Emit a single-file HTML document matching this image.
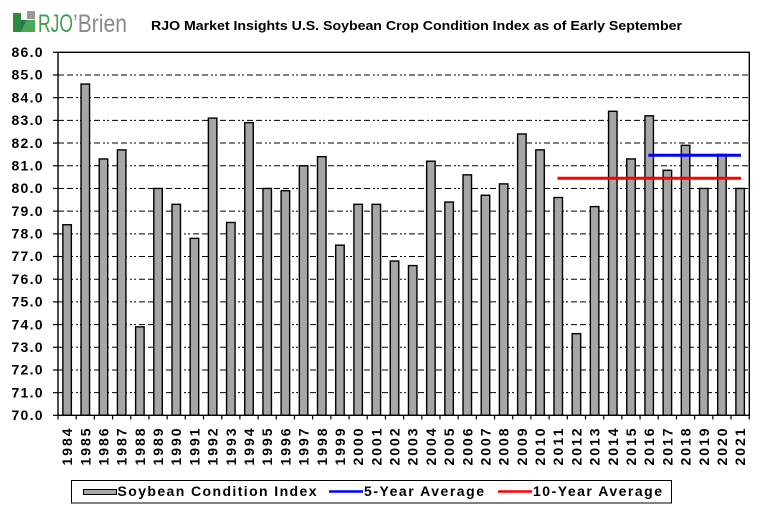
<!DOCTYPE html>
<html><head><meta charset="utf-8"><style>
html,body{margin:0;padding:0;background:#fff;}
svg{display:block;}
text{font-family:"Liberation Sans",Arial,sans-serif;}
</style></head><body>
<svg width="763" height="516" viewBox="0 0 763 516" xmlns="http://www.w3.org/2000/svg">
<rect width="763" height="516" fill="#fff"/>
<!-- logo -->
<rect x="13" y="13" width="8" height="19" fill="#2b8a3e"/>
<polygon points="21,32 35,32 35,20 27,20" fill="#4aa85a"/>
<polygon points="21,32 27,20 21,20" fill="#1f7a5a"/>
<rect x="27" y="11" width="8" height="8" fill="#9a9a9a"/>
<text x="38" y="32" font-size="25" fill="#3f9e4a" textLength="35" lengthAdjust="spacingAndGlyphs">RJO</text>
<text x="73" y="32" font-size="25" fill="#8a8a8a" textLength="54" lengthAdjust="spacingAndGlyphs">’Brien</text>
<!-- title -->
<text x="151" y="30" font-size="13" font-weight="bold" fill="#000" textLength="531" lengthAdjust="spacingAndGlyphs">RJO Market Insights U.S. Soybean Crop Condition Index as of Early September</text>
<!-- grid -->
<g stroke="#000" stroke-width="1" stroke-dasharray="6,3,6,3,2,2,2,3">
<line x1="58" x2="749" y1="74.99" y2="74.99"/>
<line x1="58" x2="749" y1="97.68" y2="97.68"/>
<line x1="58" x2="749" y1="120.37" y2="120.37"/>
<line x1="58" x2="749" y1="143.06" y2="143.06"/>
<line x1="58" x2="749" y1="165.75" y2="165.75"/>
<line x1="58" x2="749" y1="188.44" y2="188.44"/>
<line x1="58" x2="749" y1="211.13" y2="211.13"/>
<line x1="58" x2="749" y1="233.82" y2="233.82"/>
<line x1="58" x2="749" y1="256.51" y2="256.51"/>
<line x1="58" x2="749" y1="279.2" y2="279.2"/>
<line x1="58" x2="749" y1="301.89" y2="301.89"/>
<line x1="58" x2="749" y1="324.58" y2="324.58"/>
<line x1="58" x2="749" y1="347.27" y2="347.27"/>
<line x1="58" x2="749" y1="369.96" y2="369.96"/>
<line x1="58" x2="749" y1="392.65" y2="392.65"/>
</g>
<!-- bars -->
<g fill="#a6a6a6" stroke="#000" stroke-width="1.4">
<rect x="62.85" y="224.74" width="8.5" height="190.56"/>
<rect x="81.04" y="84.07" width="8.5" height="331.23"/>
<rect x="99.23" y="158.94" width="8.5" height="256.36"/>
<rect x="117.42" y="149.87" width="8.5" height="265.43"/>
<rect x="135.61" y="326.85" width="8.5" height="88.45"/>
<rect x="153.8" y="188.44" width="8.5" height="226.86"/>
<rect x="171.99" y="204.32" width="8.5" height="210.98"/>
<rect x="190.18" y="238.36" width="8.5" height="176.94"/>
<rect x="208.37" y="118.1" width="8.5" height="297.2"/>
<rect x="226.56" y="222.48" width="8.5" height="192.82"/>
<rect x="244.75" y="122.64" width="8.5" height="292.66"/>
<rect x="262.94" y="188.44" width="8.5" height="226.86"/>
<rect x="281.13" y="190.71" width="8.5" height="224.59"/>
<rect x="299.32" y="165.75" width="8.5" height="249.55"/>
<rect x="317.51" y="156.67" width="8.5" height="258.63"/>
<rect x="335.7" y="245.17" width="8.5" height="170.13"/>
<rect x="353.89" y="204.32" width="8.5" height="210.98"/>
<rect x="372.08" y="204.32" width="8.5" height="210.98"/>
<rect x="390.27" y="261.05" width="8.5" height="154.25"/>
<rect x="408.46" y="265.59" width="8.5" height="149.71"/>
<rect x="426.65" y="161.21" width="8.5" height="254.09"/>
<rect x="444.84" y="202.05" width="8.5" height="213.25"/>
<rect x="463.03" y="174.83" width="8.5" height="240.47"/>
<rect x="481.22" y="195.25" width="8.5" height="220.05"/>
<rect x="499.41" y="183.9" width="8.5" height="231.4"/>
<rect x="517.6" y="133.98" width="8.5" height="281.32"/>
<rect x="535.79" y="149.87" width="8.5" height="265.43"/>
<rect x="553.98" y="197.52" width="8.5" height="217.78"/>
<rect x="572.17" y="333.66" width="8.5" height="81.64"/>
<rect x="590.36" y="206.59" width="8.5" height="208.71"/>
<rect x="608.55" y="111.29" width="8.5" height="304.01"/>
<rect x="626.74" y="158.94" width="8.5" height="256.36"/>
<rect x="644.93" y="115.83" width="8.5" height="299.47"/>
<rect x="663.12" y="170.29" width="8.5" height="245.01"/>
<rect x="681.31" y="145.33" width="8.5" height="269.97"/>
<rect x="699.5" y="188.44" width="8.5" height="226.86"/>
<rect x="717.69" y="154.41" width="8.5" height="260.89"/>
<rect x="735.88" y="188.44" width="8.5" height="226.86"/>
</g>
<!-- averages -->
<line x1="557.5" x2="741" y1="178.3" y2="178.3" stroke="#ff0000" stroke-width="3"/>
<line x1="648.3" x2="741" y1="155.3" y2="155.3" stroke="#0000ff" stroke-width="3"/>
<!-- plot border -->
<rect x="58" y="52.3" width="691.3" height="363" fill="none" stroke="#000" stroke-width="1.4"/>
<!-- y ticks -->
<g stroke="#000" stroke-width="1.2">
<line x1="53" x2="58" y1="52.3" y2="52.3"/>
<line x1="53" x2="58" y1="74.99" y2="74.99"/>
<line x1="53" x2="58" y1="97.68" y2="97.68"/>
<line x1="53" x2="58" y1="120.37" y2="120.37"/>
<line x1="53" x2="58" y1="143.06" y2="143.06"/>
<line x1="53" x2="58" y1="165.75" y2="165.75"/>
<line x1="53" x2="58" y1="188.44" y2="188.44"/>
<line x1="53" x2="58" y1="211.13" y2="211.13"/>
<line x1="53" x2="58" y1="233.82" y2="233.82"/>
<line x1="53" x2="58" y1="256.51" y2="256.51"/>
<line x1="53" x2="58" y1="279.2" y2="279.2"/>
<line x1="53" x2="58" y1="301.89" y2="301.89"/>
<line x1="53" x2="58" y1="324.58" y2="324.58"/>
<line x1="53" x2="58" y1="347.27" y2="347.27"/>
<line x1="53" x2="58" y1="369.96" y2="369.96"/>
<line x1="53" x2="58" y1="392.65" y2="392.65"/>
<line x1="53" x2="58" y1="415.34" y2="415.34"/>
</g>
<!-- y labels -->
<g font-size="14" font-weight="bold" text-anchor="end" fill="#000">
<text x="42.5" y="57" textLength="31">86.0</text>
<text x="42.5" y="79.69" textLength="31">85.0</text>
<text x="42.5" y="102.38" textLength="31">84.0</text>
<text x="42.5" y="125.07" textLength="31">83.0</text>
<text x="42.5" y="147.76" textLength="31">82.0</text>
<text x="42.5" y="170.45" textLength="31">81.0</text>
<text x="42.5" y="193.14" textLength="31">80.0</text>
<text x="42.5" y="215.83" textLength="31">79.0</text>
<text x="42.5" y="238.52" textLength="31">78.0</text>
<text x="42.5" y="261.21" textLength="31">77.0</text>
<text x="42.5" y="283.9" textLength="31">76.0</text>
<text x="42.5" y="306.59" textLength="31">75.0</text>
<text x="42.5" y="329.28" textLength="31">74.0</text>
<text x="42.5" y="351.97" textLength="31">73.0</text>
<text x="42.5" y="374.66" textLength="31">72.0</text>
<text x="42.5" y="397.35" textLength="31">71.0</text>
<text x="42.5" y="420.04" textLength="31">70.0</text>
</g>
<!-- x ticks -->
<g stroke="#000" stroke-width="1.2">
<line x1="58" x2="58" y1="415" y2="419.5"/><line x1="76.19" x2="76.19" y1="415" y2="419.5"/><line x1="94.38" x2="94.38" y1="415" y2="419.5"/><line x1="112.57" x2="112.57" y1="415" y2="419.5"/><line x1="130.76" x2="130.76" y1="415" y2="419.5"/><line x1="148.95" x2="148.95" y1="415" y2="419.5"/><line x1="167.14" x2="167.14" y1="415" y2="419.5"/><line x1="185.33" x2="185.33" y1="415" y2="419.5"/><line x1="203.52" x2="203.52" y1="415" y2="419.5"/><line x1="221.71" x2="221.71" y1="415" y2="419.5"/><line x1="239.9" x2="239.9" y1="415" y2="419.5"/><line x1="258.09" x2="258.09" y1="415" y2="419.5"/><line x1="276.28" x2="276.28" y1="415" y2="419.5"/><line x1="294.47" x2="294.47" y1="415" y2="419.5"/><line x1="312.66" x2="312.66" y1="415" y2="419.5"/><line x1="330.85" x2="330.85" y1="415" y2="419.5"/><line x1="349.04" x2="349.04" y1="415" y2="419.5"/><line x1="367.23" x2="367.23" y1="415" y2="419.5"/><line x1="385.42" x2="385.42" y1="415" y2="419.5"/><line x1="403.61" x2="403.61" y1="415" y2="419.5"/><line x1="421.8" x2="421.8" y1="415" y2="419.5"/><line x1="439.99" x2="439.99" y1="415" y2="419.5"/><line x1="458.18" x2="458.18" y1="415" y2="419.5"/><line x1="476.37" x2="476.37" y1="415" y2="419.5"/><line x1="494.56" x2="494.56" y1="415" y2="419.5"/><line x1="512.75" x2="512.75" y1="415" y2="419.5"/><line x1="530.94" x2="530.94" y1="415" y2="419.5"/><line x1="549.13" x2="549.13" y1="415" y2="419.5"/><line x1="567.32" x2="567.32" y1="415" y2="419.5"/><line x1="585.51" x2="585.51" y1="415" y2="419.5"/><line x1="603.7" x2="603.7" y1="415" y2="419.5"/><line x1="621.89" x2="621.89" y1="415" y2="419.5"/><line x1="640.08" x2="640.08" y1="415" y2="419.5"/><line x1="658.27" x2="658.27" y1="415" y2="419.5"/><line x1="676.46" x2="676.46" y1="415" y2="419.5"/><line x1="694.65" x2="694.65" y1="415" y2="419.5"/><line x1="712.84" x2="712.84" y1="415" y2="419.5"/><line x1="731.03" x2="731.03" y1="415" y2="419.5"/><line x1="749.22" x2="749.22" y1="415" y2="419.5"/>
</g>
<!-- x labels -->
<g font-size="14" font-weight="bold" text-anchor="end" fill="#000">
<text transform="translate(72.1,428.5) rotate(-90)" textLength="37">1984</text>
<text transform="translate(90.29,428.5) rotate(-90)" textLength="37">1985</text>
<text transform="translate(108.48,428.5) rotate(-90)" textLength="37">1986</text>
<text transform="translate(126.67,428.5) rotate(-90)" textLength="37">1987</text>
<text transform="translate(144.86,428.5) rotate(-90)" textLength="37">1988</text>
<text transform="translate(163.05,428.5) rotate(-90)" textLength="37">1989</text>
<text transform="translate(181.24,428.5) rotate(-90)" textLength="37">1990</text>
<text transform="translate(199.43,428.5) rotate(-90)" textLength="37">1991</text>
<text transform="translate(217.62,428.5) rotate(-90)" textLength="37">1992</text>
<text transform="translate(235.81,428.5) rotate(-90)" textLength="37">1993</text>
<text transform="translate(254,428.5) rotate(-90)" textLength="37">1994</text>
<text transform="translate(272.19,428.5) rotate(-90)" textLength="37">1995</text>
<text transform="translate(290.38,428.5) rotate(-90)" textLength="37">1996</text>
<text transform="translate(308.57,428.5) rotate(-90)" textLength="37">1997</text>
<text transform="translate(326.76,428.5) rotate(-90)" textLength="37">1998</text>
<text transform="translate(344.95,428.5) rotate(-90)" textLength="37">1999</text>
<text transform="translate(363.14,428.5) rotate(-90)" textLength="37">2000</text>
<text transform="translate(381.33,428.5) rotate(-90)" textLength="37">2001</text>
<text transform="translate(399.52,428.5) rotate(-90)" textLength="37">2002</text>
<text transform="translate(417.71,428.5) rotate(-90)" textLength="37">2003</text>
<text transform="translate(435.9,428.5) rotate(-90)" textLength="37">2004</text>
<text transform="translate(454.09,428.5) rotate(-90)" textLength="37">2005</text>
<text transform="translate(472.28,428.5) rotate(-90)" textLength="37">2006</text>
<text transform="translate(490.47,428.5) rotate(-90)" textLength="37">2007</text>
<text transform="translate(508.66,428.5) rotate(-90)" textLength="37">2008</text>
<text transform="translate(526.85,428.5) rotate(-90)" textLength="37">2009</text>
<text transform="translate(545.04,428.5) rotate(-90)" textLength="37">2010</text>
<text transform="translate(563.23,428.5) rotate(-90)" textLength="37">2011</text>
<text transform="translate(581.42,428.5) rotate(-90)" textLength="37">2012</text>
<text transform="translate(599.61,428.5) rotate(-90)" textLength="37">2013</text>
<text transform="translate(617.8,428.5) rotate(-90)" textLength="37">2014</text>
<text transform="translate(635.99,428.5) rotate(-90)" textLength="37">2015</text>
<text transform="translate(654.18,428.5) rotate(-90)" textLength="37">2016</text>
<text transform="translate(672.37,428.5) rotate(-90)" textLength="37">2017</text>
<text transform="translate(690.56,428.5) rotate(-90)" textLength="37">2018</text>
<text transform="translate(708.75,428.5) rotate(-90)" textLength="37">2019</text>
<text transform="translate(726.94,428.5) rotate(-90)" textLength="37">2020</text>
<text transform="translate(745.13,428.5) rotate(-90)" textLength="37">2021</text>
</g>
<!-- legend -->
<rect x="71.5" y="480.5" width="600" height="22.5" fill="#fff" stroke="#000" stroke-width="1"/>
<rect x="83.5" y="489.5" width="33" height="5" fill="#a6a6a6" stroke="#000" stroke-width="1"/>
<line x1="329" x2="363" y1="491.5" y2="491.5" stroke="#0000ff" stroke-width="2.5"/>
<line x1="498" x2="532" y1="491.5" y2="491.5" stroke="#ff0000" stroke-width="2.5"/>
<g font-size="14" font-weight="bold" fill="#000">
<text x="117.5" y="496" textLength="199">Soybean Condition Index</text>
<text x="364" y="496" textLength="120">5-Year Average</text>
<text x="533" y="496" textLength="129">10-Year Average</text>
</g>
</svg>
</body></html>
